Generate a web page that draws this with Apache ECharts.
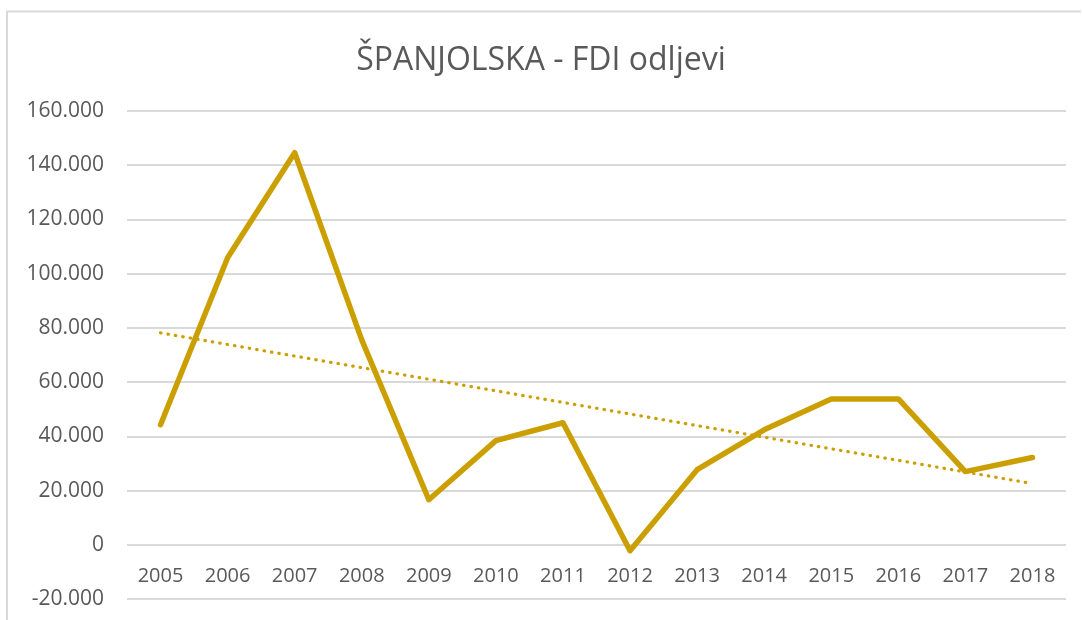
<!DOCTYPE html>
<html>
<head>
<meta charset="utf-8">
<script src="https://cdn.jsdelivr.net/npm/echarts@6/dist/echarts.min.js"></script>
<style>
html,body{margin:0;padding:0;background:#fff;}
#chart{width:1082px;height:620px;}
</style>
</head>
<body>
<div id="chart"></div>
<script>
const titleText = 'ŠPANJOLSKA - FDI odljevi';
const years = ['2005','2006','2007','2008','2009','2010','2011','2012','2013','2014','2015','2016','2017','2018'];
const fdiOutflows = [44300, 105900, 144600, 75600, 16600, 38400, 45000, -2200, 27700, 42400, 53800, 53800, 27000, 32200];
const yTicks = { min: -20000, max: 160000, interval: 20000 };

// Linear trendline (least squares), as Excel computes it
function linearTrend(vals) {
  const n = vals.length;
  let sx = 0, sy = 0, sxy = 0, sxx = 0;
  vals.forEach((v, i) => { sx += i; sy += v; sxy += i * v; sxx += i * i; });
  const b = (n * sxy - sx * sy) / (n * sxx - sx * sx);
  const a = (sy - b * sx) / n;
  return vals.map((_, i) => a + b * i);
}
const trend = linearTrend(fdiOutflows);

function fmt(v) {
  if (v === 0) return '0';
  const s = Math.abs(v).toString().replace(/\B(?=(\d{3})+(?!\d))/g, '.');
  return (v < 0 ? '-' : '') + s;
}

const chart = echarts.init(document.getElementById('chart'), null, { renderer: 'canvas' });
const gold = '#CB9F00';
const txt = '#595959';
const font = 'Open Sans';
const gridTop = 111, gridBottom = 21;
const gridH = 620 - gridTop - gridBottom;
// place the category axis on the zero line
const zeroOffset = -gridH * (0 - yTicks.min) / (yTicks.max - yTicks.min);

chart.setOption({
  animation: false,
  backgroundColor: '#fff',
  graphic: [{
    type: 'polyline',
    shape: { points: [[7, 640], [7, 11.5], [1081, 11.5]] },
    style: { stroke: '#D9D9D9', lineWidth: 2, fill: null },
    silent: true
  }],
  title: {
    text: titleText,
    left: 'center',
    top: 40,
    textStyle: { fontFamily: font, fontSize: 32, fontWeight: 'normal', color: txt }
  },
  grid: { left: 127, right: 16, top: gridTop, bottom: gridBottom, containLabel: false, outerBoundsMode: 'none' },
  xAxis: {
    type: 'category',
    data: years,
    boundaryGap: true,
    position: 'bottom',
    offset: zeroOffset,
    axisLine: { show: false, onZero: false },
    axisTick: { show: false },
    axisLabel: { color: txt, fontFamily: font, fontSize: 20, margin: 22 }
  },
  yAxis: {
    type: 'value',
    min: yTicks.min, max: yTicks.max, interval: yTicks.interval,
    axisLine: { show: false },
    axisTick: { show: false },
    axisLabel: { color: txt, fontFamily: font, fontSize: 21, margin: 23, formatter: fmt },
    splitLine: { lineStyle: { color: '#D9D9D9', width: 2 } }
  },
  series: [
    {
      name: 'FDI odljevi',
      type: 'line',
      data: fdiOutflows,
      symbol: 'none',
      lineStyle: { color: gold, width: 5.5, join: 'round', cap: 'round' },
      z: 3
    },
    {
      name: 'Trend',
      type: 'line',
      data: trend,
      symbol: 'none',
      lineStyle: { color: gold, width: 3.2, type: [0.5, 7], cap: 'round' },
      z: 2
    }
  ]
});
</script>
</body>
</html>
